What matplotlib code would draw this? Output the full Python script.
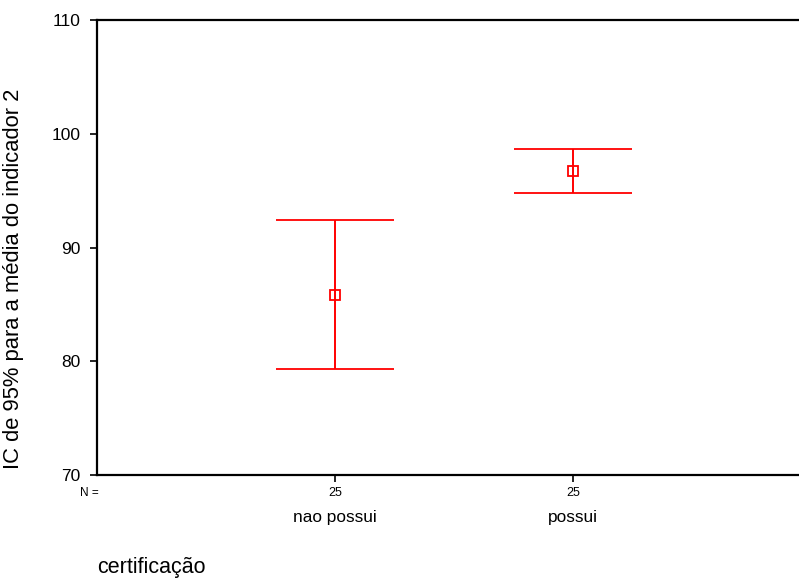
import matplotlib.pyplot as plt
import numpy as np

plt.rcParams['font.family'] = ['Liberation Sans', 'DejaVu Sans']

grupos = ['nao possui', 'possui']
n_casos = ['25', '25']
media = [85.8, 96.7]
ic_inf = [79.3, 94.8]
ic_sup = [92.4, 98.7]

W, H = 799, 580
fig = plt.figure(figsize=(W / 100, H / 100), dpi=100)
# axes: left spine at x=97px, bottom at y=475px, top at y=20px, x runs 0..3
x0, x1 = 97, 97 + 3 * 238
ax = fig.add_axes([x0 / W, (H - 475) / H, (x1 - x0) / W, 455 / H])

pos = np.arange(1, len(grupos) + 1)
media = np.array(media)
err = [media - np.array(ic_inf), np.array(ic_sup) - media]
ax.errorbar(pos, media, yerr=err, fmt='s', color='red', ecolor='red',
            elinewidth=1.4, capsize=42.5, capthick=1.4,
            mfc='none', mec='red', ms=7.5, mew=1.3)

ax.set_xlim(0, 3)
ax.set_ylim(70, 110)
ax.set_yticks([70, 80, 90, 100, 110])
ax.set_xticks(pos)
ax.set_xticklabels(n_casos, fontsize=9)
ax.tick_params(axis='y', labelsize=12.5, length=5, width=1.2, pad=7)
ax.tick_params(axis='x', length=5, width=1.2, pad=4)

for s in ['left', 'bottom', 'top']:
    ax.spines[s].set_linewidth(1.6)
ax.spines['right'].set_visible(False)

ax.text(-0.01, -0.04, 'N =', transform=ax.transAxes, ha='center', va='center', fontsize=8.5)
for p, g in zip(pos, grupos):
    ax.text(p, -0.093, g, transform=ax.get_xaxis_transform(), ha='center',
            va='center', fontsize=12.4)

fig.text(97 / W, 1 - 568 / H, 'certificação', ha='left', va='center', fontsize=15.5)
fig.text(14 / W, 1 - 279 / H, 'IC de 95% para a média do indicador 2',
         rotation=90, ha='center', va='center', fontsize=15.8)

fig.savefig('out.png', dpi=100)
